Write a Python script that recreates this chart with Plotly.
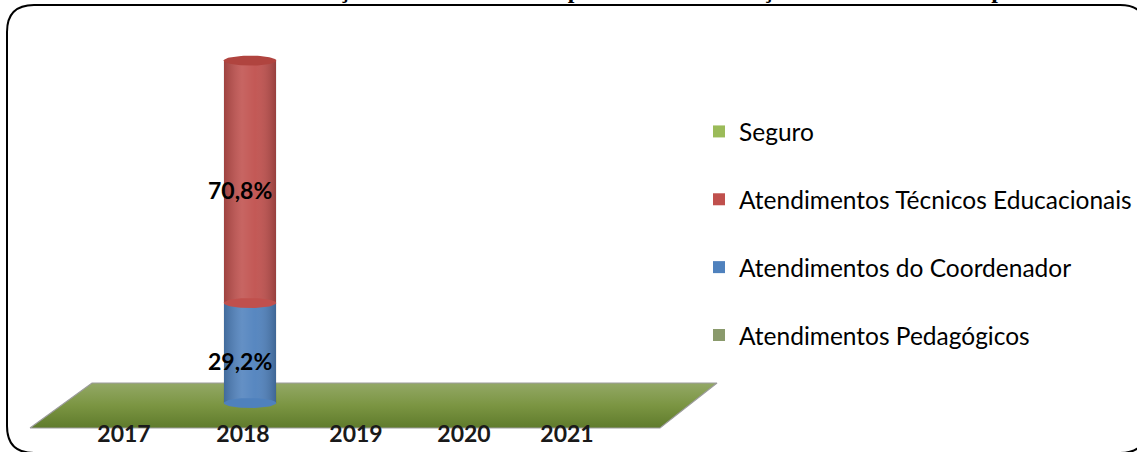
import numpy as np
import plotly.graph_objects as go

# dados
anos = ["2017", "2018", "2019", "2020", "2021"]
series = ["Atendimentos Pedagógicos", "Atendimentos do Coordenador",
          "Atendimentos Técnicos Educacionais", "Seguro"]
pedagogicos = [0, 0, 0, 0, 0]
coordenador = [0, 29.2, 0, 0, 0]
tecnicos = [0, 70.8, 0, 0, 0]
seguro = [0, 0, 0, 0, 0]

titulo = "Evolução dos Atendimentos por Ano - Distribuição dos Atendimentos por Ano"

cores = {"Atendimentos Pedagógicos": "#8a9a6c",
         "Atendimentos do Coordenador": "#4F81BD",
         "Atendimentos Técnicos Educacionais": "#C0504D",
         "Seguro": "#9BBB59"}
valores = {"Atendimentos Pedagógicos": pedagogicos,
           "Atendimentos do Coordenador": coordenador,
           "Atendimentos Técnicos Educacionais": tecnicos,
           "Seguro": seguro}

W, H = 1137, 452
FONTE = "Lato, Calibri, sans-serif"
idx = list(range(len(anos)))
larg = 0.42      # largura do cilindro (unidades do eixo x2)
elip = 1.46      # meia altura da elipse (unidades do eixo y2)
pos_rotulos = [124, 243, 356, 464, 567]   # posicao (px) dos rotulos dos anos

fig = go.Figure()

# piso verde (eixos em pixels)
piso_x = [30, 92, 717, 660, 30]
piso_y = [428, 383, 383, 428, 428]
fig.add_trace(go.Scatter(
    x=piso_x, y=piso_y, mode="lines", fill="toself",
    line=dict(color="#9c9c9c", width=1.2),
    fillgradient=dict(type="vertical", start=383, stop=428,
                      colorscale=[[0, "#93a866"], [0.5, "#7b9542"], [1, "#5f7b2c"]]),
    hoverinfo="skip", showlegend=False, xaxis="x", yaxis="y"))

# barras empilhadas (cilindros)
for i, s in enumerate(series):
    fig.add_trace(go.Bar(
        x=idx, y=valores[s], name=s, width=larg,
        marker=dict(color=cores[s], line=dict(width=0)),
        legendgroup=s, legendrank=len(series) - i,
        xaxis="x2", yaxis="y2"))

# elipses na base de cada segmento e tampa no topo + sombreamento
t = np.linspace(0, 2 * np.pi, 60)
for j in idx:
    base = 0
    topo_cor = None
    for s in series:
        v = valores[s][j]
        if v <= 0:
            continue
        # sombreamento horizontal
        fig.add_trace(go.Scatter(
            x=[j - larg / 2, j + larg / 2, j + larg / 2, j - larg / 2, j - larg / 2],
            y=[base, base, base + v, base + v, base],
            mode="lines", fill="toself", line=dict(width=0),
            fillgradient=dict(type="horizontal", colorscale=[
                [0, "rgba(0,0,0,0.18)"], [0.35, "rgba(255,255,255,0.12)"],
                [0.6, "rgba(255,255,255,0.05)"], [1, "rgba(0,0,0,0.22)"]]),
            hoverinfo="skip", showlegend=False, xaxis="x2", yaxis="y2"))
        ex = j + larg / 2 * np.cos(t)
        ey = base + elip * np.sin(t)
        fig.add_trace(go.Scatter(
            x=ex, y=ey, mode="lines", fill="toself", line=dict(width=0),
            fillcolor=cores[s], hoverinfo="skip", showlegend=False,
            xaxis="x2", yaxis="y2"))
        fig.add_annotation(
            x=j, y=base + v / 2, xref="x2", yref="y2",
            text=f"{v:.1f}%".replace(".", ","), showarrow=False,
            xshift=-10, yshift=-8,
            font=dict(family=FONTE, size=23, color="black", weight="bold"))
        base += v
        topo_cor = cores[s]
    if topo_cor:
        fig.add_trace(go.Scatter(
            x=j + larg / 2 * np.cos(t), y=base + elip * np.sin(t),
            mode="lines", fill="toself", line=dict(width=0),
            fillcolor="#b0443f", hoverinfo="skip", showlegend=False,
            xaxis="x2", yaxis="y2"))

# moldura arredondada
r = 27
x0, y0, x1, y1 = 7, 5, 1147, 453
fig.add_shape(type="path", xref="x", yref="y",
              path=(f"M {x0} {y0 + r} Q {x0} {y0} {x0 + r} {y0} L {x1 - r} {y0} "
                    f"Q {x1} {y0} {x1} {y0 + r} L {x1} {y1 - r} Q {x1} {y1} {x1 - r} {y1} "
                    f"L {x0 + r} {y1} Q {x0} {y1} {x0} {y1 - r} Z"),
              line=dict(color="black", width=2), fillcolor="rgba(0,0,0,0)")

# titulo (cortado no topo da imagem)
fig.add_annotation(x=277, y=0, xref="x", yref="y", xanchor="left", yanchor="bottom",
                   text=titulo, showarrow=False, yshift=-5,
                   font=dict(family="Liberation Serif", size=24, color="black", weight="bold"))

fig.update_layout(
    width=W, height=H,
    margin=dict(l=0, r=0, t=0, b=0, autoexpand=False),
    paper_bgcolor="white", plot_bgcolor="white",
    barmode="stack", bargap=0,
    showlegend=True,
    legend=dict(x=699 / W, y=1 - 109 / H, xanchor="left", yanchor="top",
                traceorder="grouped", tracegroupgap=33,
                font=dict(family=FONTE, size=24.5, color="black"),
                bgcolor="rgba(0,0,0,0)"),
    xaxis=dict(range=[0, W], domain=[0, 1], anchor="free", position=1 - 418 / H,
               tickvals=pos_rotulos, ticktext=anos, ticks="", showgrid=False,
               zeroline=False, showline=False, automargin=False,
               tickfont=dict(family=FONTE, size=23, color="#1a1a1a", weight="bold")),
    yaxis=dict(range=[H, 0], domain=[0, 1], visible=False),
    xaxis2=dict(range=[-1, -1 + W / 125], overlaying="x", visible=False),
    yaxis2=dict(range=[-14.3, 117.7], overlaying="y", visible=False),
)

fig.write_html("out.html", config={"displayModeBar": False},
               post_script="document.body.style.margin='0';")
